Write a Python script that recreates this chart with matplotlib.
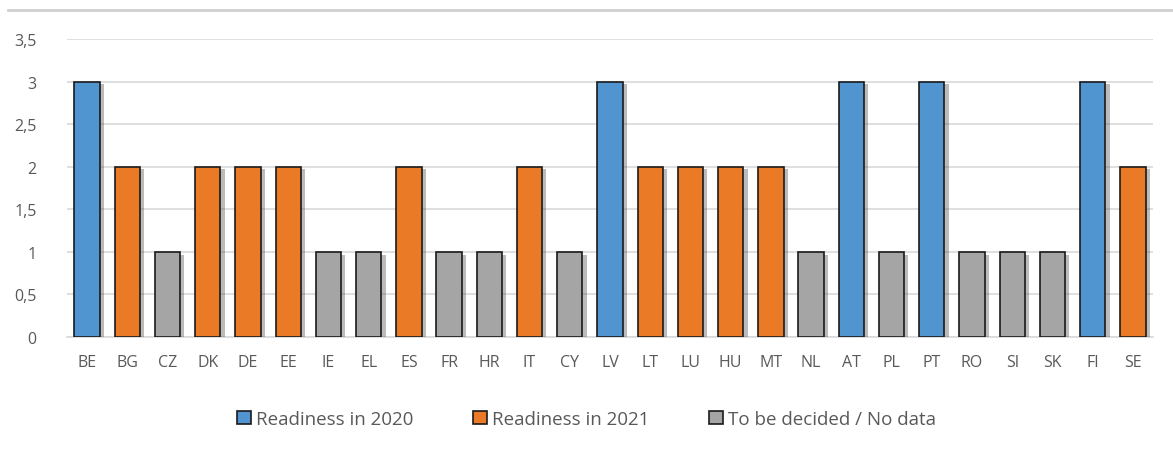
import matplotlib
matplotlib.use('Agg')
from matplotlib import pyplot as plt
from matplotlib import patheffects as pe
from matplotlib.lines import Line2D
from matplotlib.patches import Patch

countries = ['BE', 'BG', 'CZ', 'DK', 'DE', 'EE', 'IE', 'EL', 'ES', 'FR', 'HR',
             'IT', 'CY', 'LV', 'LT', 'LU', 'HU', 'MT', 'NL', 'AT', 'PL', 'PT',
             'RO', 'SI', 'SK', 'FI', 'SE']
readiness = [3, 2, 1, 2, 2, 2, 1, 1, 2, 1, 1, 2, 1, 3, 2, 2, 2, 2, 1, 3, 1, 3,
             1, 1, 1, 3, 2]
labels = ['Readiness in 2020', 'Readiness in 2021', 'To be decided / No data']

colors = {3: '#5094D0', 2: '#EB7A27', 1: '#A5A5A5'}
text_color = '#595959'

plt.rcParams['font.family'] = ['Open Sans', 'DejaVu Sans']

fig = plt.figure(figsize=(11.73, 4.52), dpi=100)
ax = fig.add_axes([67 / 1173, 1 - 338 / 452, (1153 - 67) / 1173, (338 - 40) / 452])

shadow = [pe.SimplePatchShadow(offset=(3, -2), shadow_rgbFace='#555555', alpha=0.4),
          pe.Normal()]
bars = ax.bar(range(len(countries)), readiness, width=0.63,
              color=[colors[v] for v in readiness], edgecolor='#1a1a1a',
              linewidth=1.2, zorder=3)
for b in bars:
    b.set_path_effects(shadow)

ax.set_xlim(-0.5, len(countries) - 0.5)
ax.set_ylim(0, 3.5)
ax.set_yticks([0, 0.5, 1, 1.5, 2, 2.5, 3, 3.5])
ax.set_yticklabels(['0', '0,5', '1', '1,5', '2', '2,5', '3', '3,5'])
ax.set_xticks(range(len(countries)))
ax.set_xticklabels(countries)
ax.tick_params(axis='both', length=0, colors=text_color, labelsize=11.5)
ax.tick_params(axis='x', pad=12)
ax.tick_params(axis='y', pad=22)
ax.grid(axis='y', color='#d9d9d9', linewidth=1.2, zorder=0)
for s in ['top', 'right', 'left']:
    ax.spines[s].set_visible(False)
ax.spines['bottom'].set_color('#d9d9d9')
ax.spines['bottom'].set_linewidth(1.2)

handles = [Patch(facecolor=colors[v], edgecolor='#1a1a1a', linewidth=1.2)
           for v in [3, 2, 1]]
fig.legend(handles, labels, loc='center', bbox_to_anchor=(0.5, 1 - 420 / 452),
           ncol=3, frameon=False, fontsize=13.5, labelcolor=text_color,
           handlelength=0.75, handleheight=0.75, handletextpad=0.25,
           columnspacing=3.2)

fig.add_artist(Line2D([8 / 1173, 1], [1 - 11 / 452, 1 - 11 / 452],
                      color='#d0d0d0', linewidth=2))

fig.savefig('out.png', dpi=100)
plt.close()
